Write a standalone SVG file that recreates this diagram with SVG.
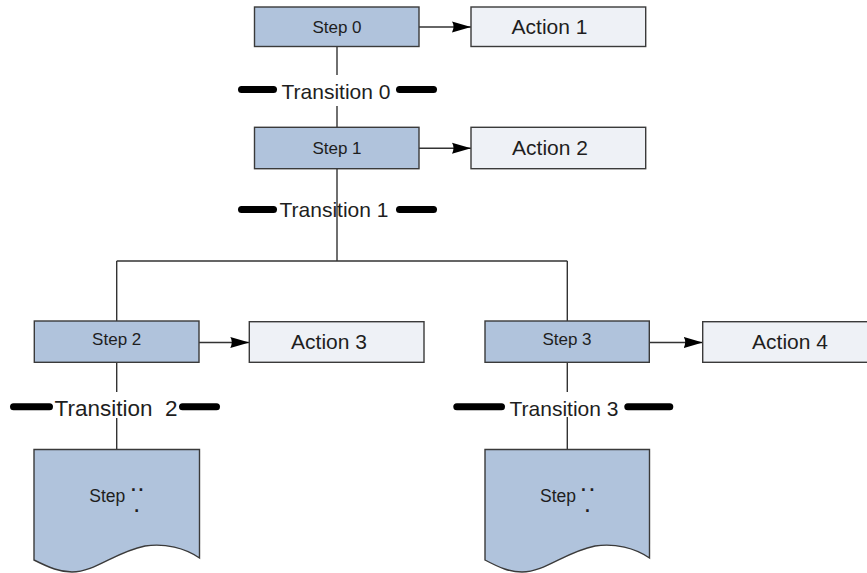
<svg xmlns="http://www.w3.org/2000/svg" width="867" height="573" viewBox="0 0 867 573">
  <style>
    .step { fill: #b0c3dc; stroke: #3a3a3a; stroke-width: 1.4; }
    .action { fill: #eef1f6; stroke: #3a3a3a; stroke-width: 1.4; }
    .wire { fill: none; stroke: #333; stroke-width: 1.4; }
    .bar { fill: #000; }
    .mask { fill: #fff; }
    .lbl { font-family: "Liberation Sans", Arial, sans-serif; fill: #1e1e1e; }
    .s { font-size: 17px; text-anchor: middle; }
    .a { font-size: 21px; text-anchor: middle; }
    .t { font-size: 21px; text-anchor: middle; white-space: pre; }
    .d { font-size: 17.5px; }
  </style>
  <defs>
    <marker id="arrow" markerUnits="userSpaceOnUse" markerWidth="20" markerHeight="12" refX="19" refY="6" orient="auto">
      <path d="M0,0.5 Q3,5 0,11.5 L19,6 Z" fill="#000"/>
    </marker>
  </defs>

  <!-- connectors -->
  <g id="connectors">
    <path class="wire" d="M337,46.5 V127.3"/>
    <path class="wire" d="M337,168.7 V261 M116.7,261 H567.3 M116.7,261 V321 M567.3,261 V321"/>
    <path class="wire" d="M116.7,362.3 V449.5"/>
    <path class="wire" d="M567.3,362.3 V449.5"/>
    <path class="wire" d="M419,27 H471" marker-end="url(#arrow)"/>
    <path class="wire" d="M419,148.3 H471" marker-end="url(#arrow)"/>
    <path class="wire" d="M199,342.5 H249.3" marker-end="url(#arrow)"/>
    <path class="wire" d="M649.3,342.5 H702.7" marker-end="url(#arrow)"/>
  </g>

  <!-- steps -->
  <g id="step0">
    <rect class="step" x="254.5" y="7" width="164.5" height="39.5"/>
    <text class="lbl s" x="337" y="33">Step 0</text>
  </g>
  <g id="step1">
    <rect class="step" x="254.5" y="127.3" width="164.5" height="41.4"/>
    <text class="lbl s" x="337" y="154">Step 1</text>
  </g>
  <g id="step2">
    <rect class="step" x="34.3" y="321" width="164.7" height="41.3"/>
    <text class="lbl s" x="116.7" y="345">Step 2</text>
  </g>
  <g id="step3">
    <rect class="step" x="485" y="321" width="164.3" height="41.3"/>
    <text class="lbl s" x="567" y="345">Step 3</text>
  </g>

  <!-- actions -->
  <g id="action1">
    <rect class="action" x="471" y="7" width="174.7" height="39.5"/>
    <text class="lbl a" x="549.5" y="34">Action 1</text>
  </g>
  <g id="action2">
    <rect class="action" x="471" y="127.3" width="174.7" height="41.4"/>
    <text class="lbl a" x="550" y="155">Action 2</text>
  </g>
  <g id="action3">
    <rect class="action" x="249.3" y="321.7" width="174.7" height="40.6"/>
    <text class="lbl a" x="329" y="349.3">Action 3</text>
  </g>
  <g id="action4">
    <rect class="action" x="702.7" y="321.7" width="170" height="40.6"/>
    <text class="lbl a" x="790" y="349.3">Action 4</text>
  </g>

  <!-- transitions -->
  <g id="transition0">
    <rect class="mask" x="278" y="75" width="116" height="31"/>
    <rect class="bar" x="238" y="86" width="39" height="7" rx="3.5"/>
    <rect class="bar" x="396" y="86" width="41" height="7" rx="3.5"/>
    <text class="lbl t" x="336" y="99">Transition 0</text>
  </g>
  <g id="transition1">
    <rect class="bar" x="238" y="206" width="39" height="7" rx="3.5"/>
    <rect class="bar" x="396" y="206" width="41" height="7" rx="3.5"/>
    <text class="lbl t" x="334" y="216.5">Transition 1</text>
  </g>
  <g id="transition2">
    <rect class="mask" x="52" y="392" width="128" height="26"/>
    <rect class="bar" x="10" y="403.2" width="43" height="7" rx="3.5"/>
    <rect class="bar" x="179" y="403.2" width="41" height="7" rx="3.5"/>
    <text class="lbl t" x="116" y="416" style="font-size:22.5px">Transition  2</text>
  </g>
  <g id="transition3">
    <rect class="mask" x="507" y="392" width="115" height="25"/>
    <rect class="bar" x="453.3" y="403.2" width="51.7" height="7" rx="3.5"/>
    <rect class="bar" x="624.3" y="403.2" width="49" height="7" rx="3.5"/>
    <text class="lbl t" x="564" y="416">Transition 3</text>
  </g>

  <!-- continuation steps -->
  <g id="step-next-left">
    <path class="step" d="M34,449.5 H199.5 V558 C185,548 165,543 145,546 C115,552 95,572 72,572 C60,572 50,568 34,560 Z"/>
    <text class="lbl d" x="89.3" y="501.7">Step</text>
    <text class="lbl d" x="131" y="490.5" style="letter-spacing:2.7px;font-weight:bold">..</text>
    <text class="lbl d" x="134.3" y="511.8" style="font-weight:bold">.</text>
  </g>
  <g id="step-next-right">
    <path class="step" d="M485,449.5 H649.5 V558 C635,548 615,543 595,546 C565,552 545,572 522,572 C510,572 500,568 485,560 Z"/>
    <text class="lbl d" x="540" y="501.7">Step</text>
    <text class="lbl d" x="581" y="490.5" style="letter-spacing:3.7px;font-weight:bold">..</text>
    <text class="lbl d" x="585" y="511.8" style="font-weight:bold">.</text>
  </g>
</svg>
